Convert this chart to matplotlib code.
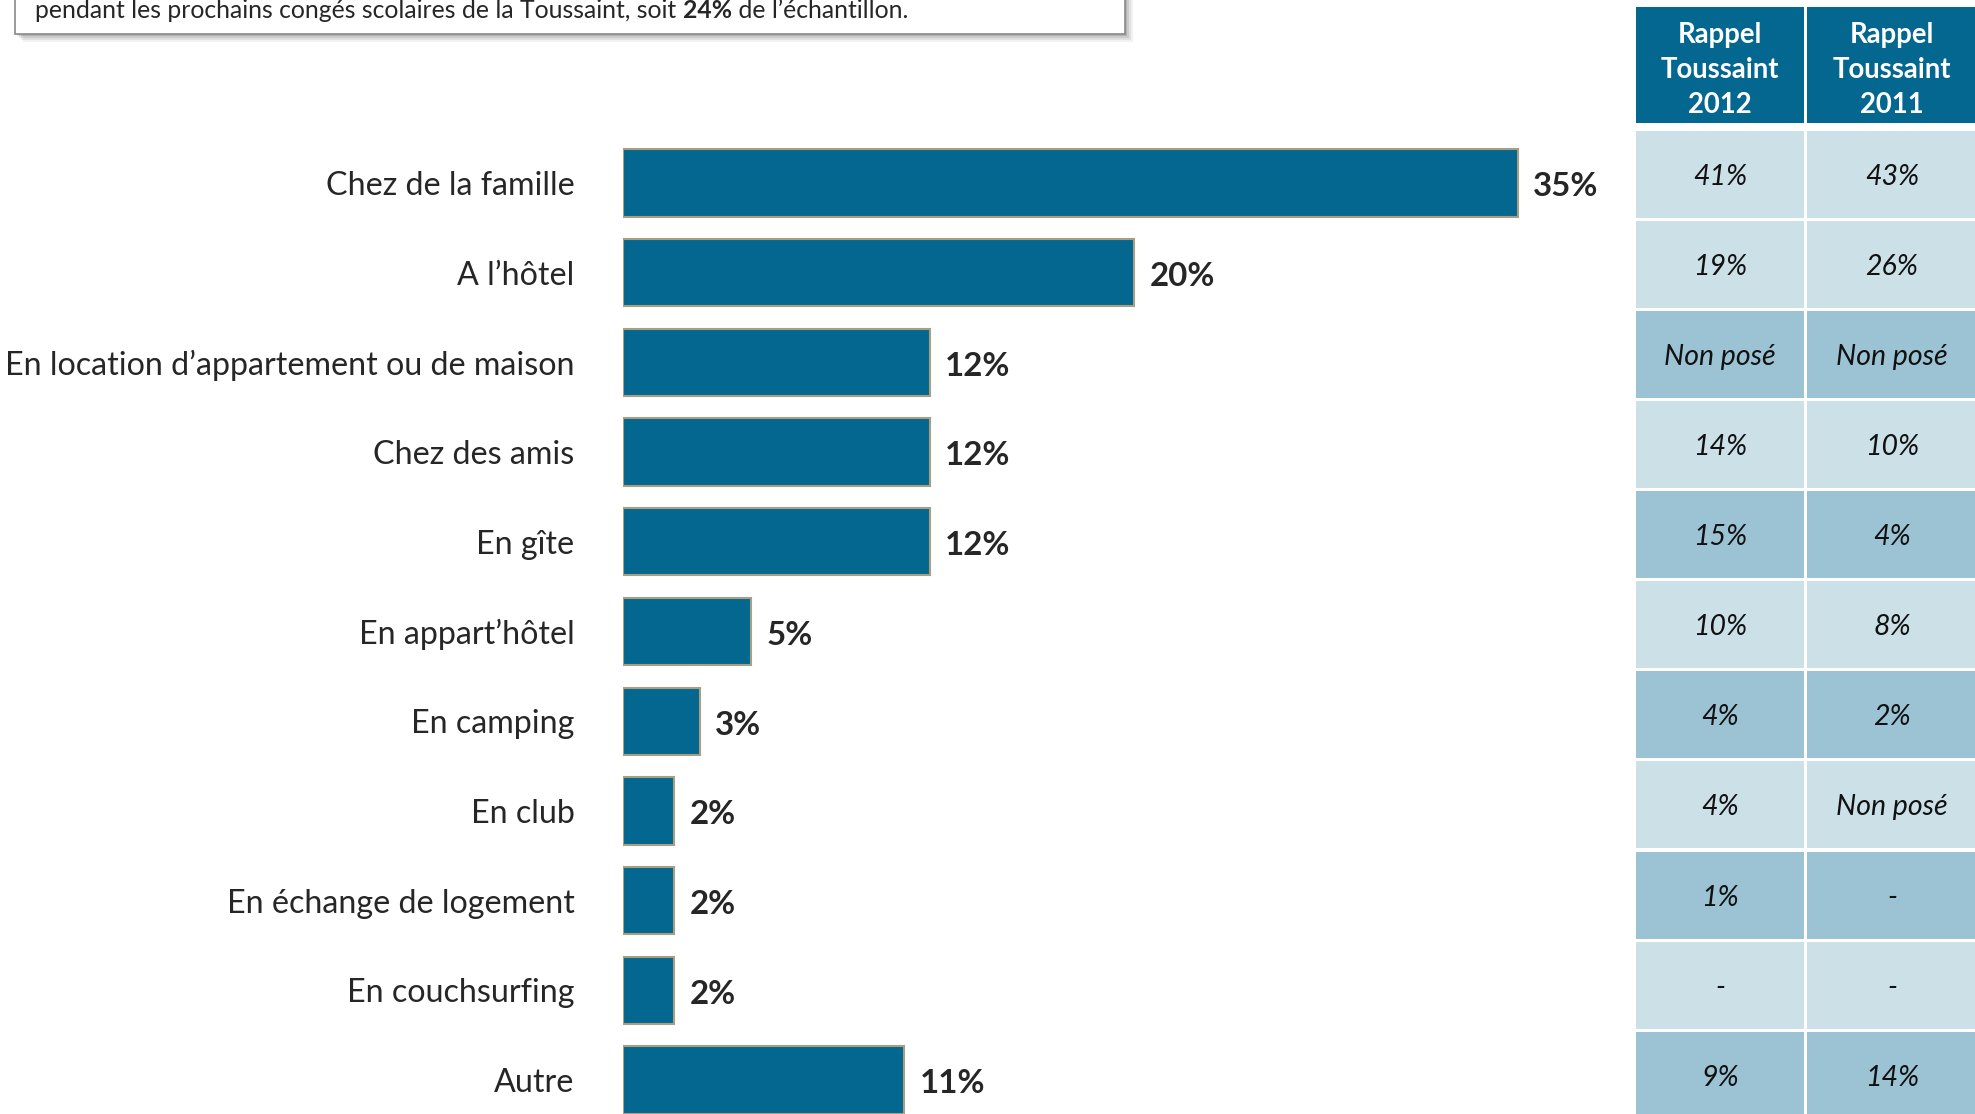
import matplotlib
matplotlib.use("Agg")
import matplotlib.pyplot as plt
from matplotlib.patches import Rectangle

# ---------------- data ----------------
categories = [
    "Chez de la famille",
    "A l\u2019hôtel",
    "En location d\u2019appartement ou de maison",
    "Chez des amis",
    "En gîte",
    "En appart\u2019hôtel",
    "En camping",
    "En club",
    "En échange de logement",
    "En couchsurfing",
    "Autre",
]
values = [35, 20, 12, 12, 12, 5, 3, 2, 2, 2, 11]
col_headers = ["Rappel\nToussaint\n2012", "Rappel\nToussaint\n2011"]
rappel_2012 = ["41%", "19%", "Non posé", "14%", "15%", "10%", "4%", "4%", "1%", "-", "9%"]
rappel_2011 = ["43%", "26%", "Non posé", "10%", "4%", "8%", "2%", "Non posé", "-", "-", "14%"]
note_before = "pendant les prochains congés scolaires de la Toussaint, soit "
note_bold = "24%"
note_after = " de l\u2019échantillon."

# ---------------- style ----------------
FONT = "Lato"
BLUE = "#04678F"
EDGE = "#A89E82"
LIGHT = "#CCE0E8"
DARK = "#9BC3D4"
TXT = "#262626"

W, H = 1975, 1114
fig = plt.figure(figsize=(W / 100, H / 100), dpi=100)
fig.patch.set_facecolor("white")

# background axes in pixel coordinates
bg = fig.add_axes([0, 0, 1, 1])
bg.set_xlim(0, W)
bg.set_ylim(H, 0)
bg.axis("off")

# ---------------- note box (partly cut at top) ----------------
for k, a in enumerate([0.05, 0.07, 0.09, 0.12]):
    off = 8 - 2 * k
    bg.add_patch(Rectangle((15 + off, -60 + off), 1110, 94, facecolor="black",
                           alpha=a, edgecolor="none", zorder=1))
bg.add_patch(Rectangle((15, -60), 1110, 94, facecolor="white", edgecolor="#8a8a8a",
                       linewidth=1.2, zorder=2))
t1 = bg.text(35, 10, note_before, fontsize=17.8, family=FONT, color=TXT,
             va="center", ha="left", zorder=3)
t2 = bg.annotate(note_bold, xy=(1, 0), xycoords=t1, va="bottom", ha="left",
                 fontsize=17.8, family=FONT, fontweight="bold", color=TXT, zorder=3)
t3 = bg.annotate(note_after, xy=(1, 0), xycoords=t2, va="bottom", ha="left",
                 fontsize=17.8, family=FONT, color=TXT, zorder=3)

# ---------------- bar chart ----------------
x0_px, x1_px = 623, 1600
px_per_pct = 25.57
pitch = 89.7
first_center = 183.0
ax = fig.add_axes([x0_px / W, 0, (x1_px - x0_px) / W, 1])
ax.set_xlim(0, (x1_px - x0_px) / px_per_pct)
ax.set_ylim((H - first_center) / pitch, -first_center / pitch)
ax.patch.set_alpha(0)
ypos = list(range(len(categories)))
bars = ax.barh(ypos, values, height=0.75, color=BLUE, edgecolor=EDGE, linewidth=1.5)
texts = ax.bar_label(bars, labels=[f"{v}%" for v in values], padding=11,
                     fontsize=23.8, fontweight="bold", family=FONT, color=TXT)
for t in texts:
    xo, yo = t.xyann
    t.xyann = (xo, yo - 2.8)
ax.set_yticks(ypos, categories)
ax.tick_params(axis="y", length=0, pad=35, labelsize=23.2, labelcolor=TXT)
for lab in ax.get_yticklabels():
    lab.set_family(FONT)
ax.set_xticks([])
for s in ax.spines.values():
    s.set_visible(False)

# ---------------- table ----------------
col_x = [(1636, 1804), (1807, 1980)]
hdr_top, hdr_bot = 6.7, 123
row_top0, row_pitch, row_h = 130.7, 90.1, 87
shade = [LIGHT, LIGHT, DARK, LIGHT, DARK, LIGHT, DARK, LIGHT, DARK, LIGHT, DARK]

for (xa, xb), head in zip(col_x, col_headers):
    bg.add_patch(Rectangle((xa, hdr_top), xb - xa, hdr_bot - hdr_top,
                           facecolor=BLUE, edgecolor="none"))
    cx = (xa + min(xb, W + 2)) / 2
    bg.text(cx, (hdr_top + hdr_bot) / 2 + 5, head, ha="center", va="center",
            color="white", fontsize=19.8, fontweight="bold", family=FONT,
            linespacing=1.43)

for col, ((xa, xb), vals) in enumerate(zip(col_x, [rappel_2012, rappel_2011])):
    for i, v in enumerate(vals):
        top = row_top0 + i * row_pitch
        bg.add_patch(Rectangle((xa, top), xb - xa, row_h, facecolor=shade[i],
                               edgecolor="none"))
        cx = (xa + min(xb, W + 2)) / 2
        bg.text(cx, top + row_h / 2 + 2.5, v, ha="center", va="center", fontsize=20.5,
                style="italic", family=FONT, color="#111111")

fig.savefig("out.png", dpi=100)
